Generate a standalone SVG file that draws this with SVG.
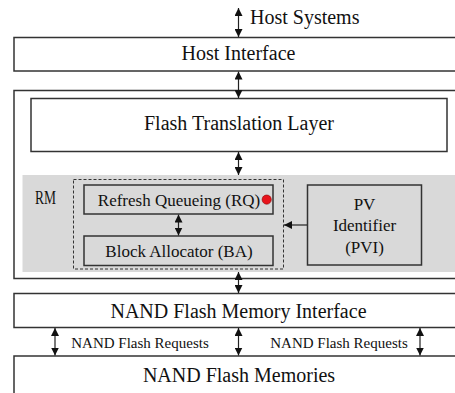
<svg xmlns="http://www.w3.org/2000/svg" width="455" height="393" viewBox="0 0 455 393">
<style>
.box{fill:#fff;stroke:#333;stroke-width:1.5}
.in{fill:#d9d9d9;stroke:#333;stroke-width:1.5}
.t{font-family:"Liberation Serif","Times New Roman",serif;fill:#111;text-anchor:middle}
.big{font-size:20px}
.mid{font-size:17px}
.sm{font-size:15px}
.c{stroke:#222;stroke-width:1.2;fill:none;marker-start:url(#ah);marker-end:url(#ah)}
</style>
<defs>
<marker id="ah" markerUnits="userSpaceOnUse" markerWidth="8" markerHeight="8" refX="8" refY="4" orient="auto-start-reverse">
<path d="M0,0 L8,4 L0,8 z" fill="#111"/>
</marker>
<marker id="ah1" markerUnits="userSpaceOnUse" markerWidth="8" markerHeight="8" refX="8" refY="4" orient="auto">
<path d="M0,0 L8,4 L0,8 z" fill="#111"/>
</marker>
</defs>
<g id="host-interface">
<rect class="box" x="14" y="37.5" width="460" height="33.5"/>
<text class="t big" x="238.5" y="60">Host Interface</text>
</g>
<g id="controller">
<rect class="box" x="14" y="90.5" width="460" height="188"/>
</g>
<g id="ftl">
<rect class="box" x="31" y="98.5" width="416" height="53"/>
<text class="t big" x="239" y="129.5">Flash Translation Layer</text>
</g>
<g id="rm">
<rect x="22.5" y="175" width="440" height="97" fill="#d9d9d9"/>
<text class="t" x="35" y="203.5" style="text-anchor:start;font-size:19px" textLength="21" lengthAdjust="spacingAndGlyphs">RM</text>
</g>
<g id="rm-group">
<rect x="73.5" y="179.5" width="210" height="89.5" fill="none" stroke="#333" stroke-width="1" stroke-dasharray="3,2"/>
</g>
<g id="rq">
<rect class="in" x="84" y="185" width="189" height="29"/>
<text class="t mid" x="179" y="206">Refresh Queueing (RQ)</text>
<circle cx="266.7" cy="199.6" r="4.6" fill="#e8141c" stroke="#8a0000" stroke-width="0.6"/>
</g>
<g id="ba">
<rect class="in" x="84" y="236" width="189" height="29.5"/>
<text class="t mid" x="179" y="257">Block Allocator (BA)</text>
</g>
<g id="pvi">
<rect class="in" x="307.5" y="185" width="114" height="80"/>
<text class="t mid" x="364.5" y="209.5">PV</text>
<text class="t mid" x="364.5" y="231">Identifier</text>
<text class="t mid" x="364.5" y="252.5">(PVI)</text>
</g>
<g id="nand-interface">
<rect class="box" x="14" y="293.5" width="460" height="34"/>
<text class="t big" x="238.5" y="317.5">NAND Flash Memory Interface</text>
</g>
<g id="nand-memories">
<rect class="box" x="14" y="356" width="460" height="60"/>
<text class="t big" x="239" y="381.5">NAND Flash Memories</text>
</g>
<g id="labels">
<text class="t big" x="250" y="24" style="text-anchor:start">Host Systems</text>
<text class="t sm" x="140" y="348">NAND Flash Requests</text>
<text class="t sm" x="339" y="348">NAND Flash Requests</text>
</g>
<g id="connectors">
<line class="c" x1="238.5" y1="8" x2="238.5" y2="37"/>
<line class="c" x1="238.5" y1="71.5" x2="238.5" y2="98"/>
<line class="c" x1="238.5" y1="152" x2="238.5" y2="175"/>
<line class="c" x1="178.5" y1="214.5" x2="178.5" y2="235.5"/>
<line x1="307" y1="225" x2="284" y2="225" stroke="#222" stroke-width="1.2" marker-end="url(#ah1)"/>
<line class="c" x1="238.5" y1="272" x2="238.5" y2="293"/>
<line class="c" x1="55" y1="328" x2="55" y2="355.5"/>
<line class="c" x1="238.5" y1="328" x2="238.5" y2="355.5"/>
<line class="c" x1="420" y1="328" x2="420" y2="355.5"/>
</g>
</svg>
